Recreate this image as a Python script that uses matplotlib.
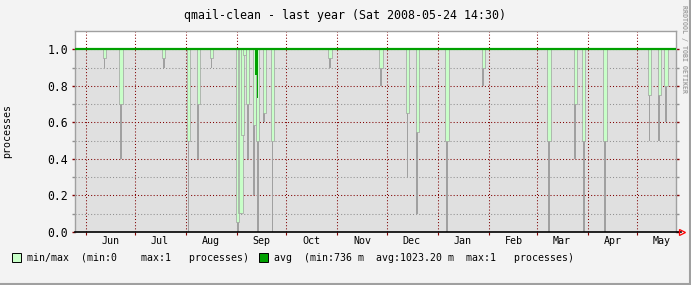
import matplotlib
matplotlib.use('Agg')
import matplotlib.pyplot as plt
from matplotlib.patches import Rectangle
from matplotlib.lines import Line2D
from datetime import datetime, timedelta

# time range of the graph (last year)
start = datetime(2007, 5, 25, 14, 30)
end = datetime(2008, 5, 24, 14, 30)

# days where min/max dropped below 1
dip_dates = ['2007-06-12', '2007-06-22', '2007-07-18', '2007-08-02', '2007-08-08',
             '2007-08-16', '2007-09-01', '2007-09-02', '2007-09-03', '2007-09-04',
             '2007-09-05', '2007-09-07', '2007-09-11', '2007-09-13', '2007-09-17',
             '2007-09-22', '2007-10-27', '2007-11-27', '2007-12-13', '2007-12-19',
             '2008-01-06', '2008-01-28', '2008-03-08', '2008-03-24', '2008-03-29',
             '2008-04-11', '2008-05-08', '2008-05-14', '2008-05-18']
# lower edge of the light green band
band_low = [0.95, 0.70, 0.95, 0.50, 0.70,
            0.95, 0.056, 0.105, 0.105, 0.53,
            0.97, 0.70, 0.585, 0.50, 0.65,
            0.50, 0.95, 0.90, 0.65, 0.55,
            0.50, 0.90, 0.50, 0.70, 0.50,
            0.50, 0.75, 0.75, 0.80]
# minimum reached (grey part)
min_low = [0.90, 0.40, 0.90, 0.0, 0.40,
           0.90, 0.0, 0.105, 0.105, 0.53,
           0.97, 0.40, 0.20, 0.0, 0.60,
           0.0, 0.90, 0.80, 0.30, 0.10,
           0.0, 0.80, 0.0, 0.40, 0.0,
           0.0, 0.50, 0.50, 0.60]

# average line (1.0 except a dip in September)
avg_dates = ['2007-05-25', '2007-09-12', '2007-09-13', '2007-09-14', '2008-05-25']
avg_vals = [1.0, 0.86, 0.736, 1.0, 1.0]
max_level = 1.0

month_starts = ['2007-06-01', '2007-07-01', '2007-08-01', '2007-09-01', '2007-10-01',
                '2007-11-01', '2007-12-01', '2008-01-01', '2008-02-01', '2008-03-01',
                '2008-04-01', '2008-05-01']
month_labels = ['Jun', 'Jul', 'Aug', 'Sep', 'Oct', 'Nov', 'Dec', 'Jan', 'Feb', 'Mar', 'Apr', 'May']

W, H = 691, 285
plt.rcParams['font.family'] = 'DejaVu Sans Mono'

fig = plt.figure(figsize=(W / 100, H / 100), dpi=100, facecolor='#f3f3f3')
ax = fig.add_axes([75 / W, 1 - 232 / H, 601 / W, 201 / H])
ax.set_facecolor('white')


def d(s):
    return datetime.strptime(s, '%Y-%m-%d')


ax.set_xlim(start, end)
ax.set_ylim(0, 1.1)

# grey area up to max
ax.axhspan(0, max_level, color='#e0e0e0', zorder=0)

# grid
red = '#800000'
dots = (0, (1, 2))
for y in [0.2, 0.4, 0.6, 0.8, 1.0]:
    ax.axhline(y, color=red, lw=0.75, ls=dots, zorder=1)
for y in [0.1, 0.3, 0.5, 0.7, 0.9]:
    ax.axhline(y, color='#909090', lw=0.75, ls=dots, zorder=1)
for m in month_starts:
    ax.axvline(d(m), color=red, lw=0.75, ls=dots, zorder=1)

# min/max band and grey minimum bars
day = timedelta(days=1)
for ds, g, mn in zip(dip_dates, band_low, min_low):
    c = d(ds) + day / 2
    if g > mn:
        ax.bar(c, g - mn, bottom=mn, width=1.1, color='#a0a0a0', linewidth=0, zorder=2)
    ax.bar(c, max_level - g, bottom=g, width=2.0, color='#c8ffc8',
           edgecolor='#a0a0a0', linewidth=0.5, zorder=2)

# average
avg_x = [d(s) for s in avg_dates]
ax.fill_between(avg_x, avg_vals, max_level, step='post', color='#00a000', lw=0, zorder=3)
ax.plot([start, end], [max_level, max_level], color='#00a000', lw=1.6, zorder=4)

# axes look
for side in ['top', 'left', 'right']:
    ax.spines[side].set_color('#a0a0a0')
    ax.spines[side].set_linewidth(1)
ax.spines['bottom'].set_visible(False)
ax.plot([0, 1.008], [0, 0], transform=ax.transAxes, color='black', lw=1.2,
        clip_on=False, zorder=5)
ax.plot([1.01], [0], transform=ax.transAxes, marker='>', ms=5, mfc='none',
        mec='red', mew=0.9, clip_on=False, zorder=5)

ax.set_yticks([0.0, 0.2, 0.4, 0.6, 0.8, 1.0])
ax.set_yticklabels(['0.0', '0.2', '0.4', '0.6', '0.8', '1.0'])
ax.set_yticks([0.1, 0.3, 0.5, 0.7, 0.9], minor=True)
ax.tick_params(axis='y', which='major', direction='out', length=2, width=1,
               color=red, labelsize=8.3, left=True, right=True, pad=3)
ax.tick_params(axis='y', which='minor', direction='out', length=2, width=1,
               color='#909090', left=True, right=True)

ax.set_xticks([d(m) for m in month_starts])
ax.set_xticklabels([])
mids = [d(m) + timedelta(days=15) for m in month_starts]
ax.set_xticks(mids, minor=True)
ax.set_xticklabels(month_labels, minor=True)
ax.tick_params(axis='x', which='major', direction='out', length=2, color=red)
ax.tick_params(axis='x', which='minor', length=0, labelsize=7.2, pad=3)

ax.set_ylabel('processes', fontsize=7.2)
ax.yaxis.set_label_coords(-63 / 601, 0.5)

# title
fig.text(345 / W, 1 - 15 / H, 'qmail-clean - last year (Sat 2008-05-24 14:30)',
         ha='center', va='center', fontsize=8.4)
fig.text(684 / W, 1 - 5 / H, 'RRDTOOL / TOBI OETIKER', rotation=270,
         ha='center', va='top', fontsize=4.8, color='#a0a0a0', fontweight='bold')

# legend
ly = 1 - 258 / H
fig.add_artist(Rectangle((12 / W, 1 - 262 / H), 9 / W, 9 / H, facecolor='#c8ffc8',
                         edgecolor='black', lw=0.7))
fig.text(27 / W, ly, 'min/max  (min:0    max:1   processes)', va='center', fontsize=7.1)
fig.add_artist(Rectangle((259 / W, 1 - 262 / H), 9 / W, 9 / H, facecolor='#00a000',
                         edgecolor='black', lw=0.7))
fig.text(274 / W, ly, 'avg  (min:736 m  avg:1023.20 m  max:1   processes)',
         va='center', fontsize=7.1)

# frame of the image
fig.add_artist(Line2D([0, 1], [1 / H, 1 / H], color='#a0a0a0', lw=1.5))
fig.add_artist(Line2D([1 - 1 / W, 1 - 1 / W], [0, 1], color='#a0a0a0', lw=1.5))

fig.savefig('out.png', dpi=100, facecolor=fig.get_facecolor())
